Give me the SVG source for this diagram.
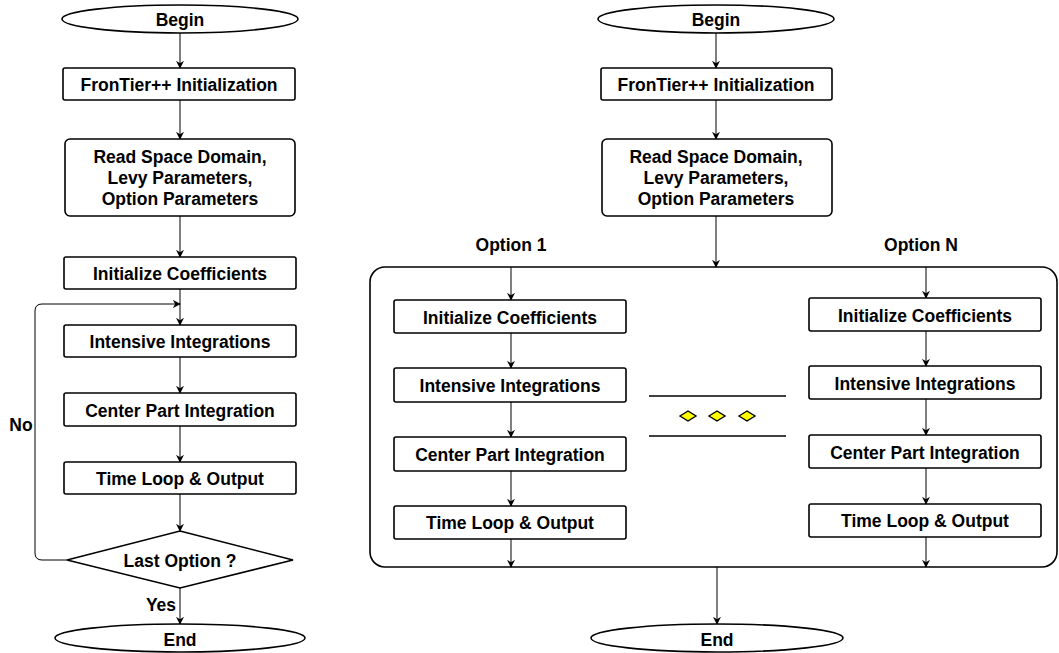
<svg xmlns="http://www.w3.org/2000/svg" width="1059" height="653" viewBox="0 0 1059 653">
  <style>
    .box { fill: #fff; stroke: #000; stroke-width: 1.6; }
    .term { fill: #fff; stroke: #000; stroke-width: 1.6; }
    .lbl { font-family: "Liberation Sans", Arial, sans-serif; font-weight: bold; font-size: 17.5px; fill: #000; text-anchor: middle; dominant-baseline: central; }
    .edge { fill: none; stroke: #000; stroke-width: 1; marker-end: url(#arrow); }
    .sep { stroke: #000; stroke-width: 1.6; }
    .dot { fill: #ffff00; stroke: #000; stroke-width: 1.4; }
  </style>
  <defs>
    <marker id="arrow" viewBox="0 0 10 10" refX="9" refY="5" markerWidth="8" markerHeight="8" markerUnits="userSpaceOnUse" orient="auto">
      <path d="M0,0 L10,5 L0,10 L3,5 z" fill="#000"/>
    </marker>
  </defs>
  <rect width="1059" height="653" fill="#fff"/>

  <!-- connectors -->
  <g id="connectors">
    <!-- sequential flow -->
    <path class="edge" d="M180,33 V68"/>
    <path class="edge" d="M180,100 V139"/>
    <path class="edge" d="M180,216 V257"/>
    <path class="edge" d="M180,289 V325"/>
    <path class="edge" d="M180,357 V393"/>
    <path class="edge" d="M180,426 V462"/>
    <path class="edge" d="M180,494 V531"/>
    <path class="edge" d="M180,588 V624"/>
    <!-- "No" branch back to the loop -->
    <path class="edge" d="M67,560 H42 Q35,560 35,553 V311 Q35,304 42,304 H180"/>

    <!-- parallel flow -->
    <path class="edge" d="M716,33 V68"/>
    <path class="edge" d="M716,100 V139"/>
    <path class="edge" d="M716,216 V267"/>
    <path class="edge" d="M511,267 V300"/>
    <path class="edge" d="M511,333 V368"/>
    <path class="edge" d="M511,402 V437"/>
    <path class="edge" d="M511,471 V506"/>
    <path class="edge" d="M511,539 V567"/>
    <path class="edge" d="M926,267 V298"/>
    <path class="edge" d="M926,331 V366"/>
    <path class="edge" d="M926,399 V435"/>
    <path class="edge" d="M926,468 V504"/>
    <path class="edge" d="M926,537 V567"/>
    <path class="edge" d="M717,567 V624"/>
  </g>

  <!-- sequential flowchart -->
  <g id="begin-seq"><ellipse class="term" cx="180" cy="19" rx="118" ry="14"/><text class="lbl" x="180" y="20">Begin</text></g>
  <g id="init-seq"><rect class="box" x="63" y="68" width="232" height="32" rx="2"/><text class="lbl" x="179" y="85">FronTier++ Initialization</text></g>
  <g id="read-seq"><rect class="box" x="65" y="139" width="230" height="77" rx="5"/>
    <text class="lbl" x="180" y="157">Read Space Domain,</text>
    <text class="lbl" x="180" y="178">Levy Parameters,</text>
    <text class="lbl" x="180" y="199">Option Parameters</text></g>
  <g id="coef-seq"><rect class="box" x="64" y="257" width="232" height="32" rx="2"/><text class="lbl" x="180" y="274">Initialize Coefficients</text></g>
  <g id="intense-seq"><rect class="box" x="64" y="325" width="232" height="32" rx="2"/><text class="lbl" x="180" y="342">Intensive Integrations</text></g>
  <g id="center-seq"><rect class="box" x="64" y="393" width="232" height="33" rx="2"/><text class="lbl" x="180" y="411">Center Part Integration</text></g>
  <g id="time-seq"><rect class="box" x="64" y="462" width="232" height="32" rx="2"/><text class="lbl" x="180" y="479">Time Loop &amp; Output</text></g>
  <g id="decision"><polygon class="box" points="180,531 293,560 180,588 67,560"/><text class="lbl" x="180" y="561">Last Option ?</text></g>
  <g id="end-seq"><ellipse class="term" cx="180" cy="638" rx="125" ry="14"/><text class="lbl" x="180" y="640">End</text></g>
  <text class="lbl" x="21" y="425">No</text>
  <text class="lbl" x="161" y="605">Yes</text>

  <!-- parallel flowchart -->
  <g id="begin-par"><ellipse class="term" cx="716" cy="19" rx="118" ry="14"/><text class="lbl" x="716" y="20">Begin</text></g>
  <g id="init-par"><rect class="box" x="601" y="68" width="231" height="32" rx="2"/><text class="lbl" x="716" y="85">FronTier++ Initialization</text></g>
  <g id="read-par"><rect class="box" x="602" y="139" width="230" height="77" rx="5"/>
    <text class="lbl" x="716" y="157">Read Space Domain,</text>
    <text class="lbl" x="716" y="178">Levy Parameters,</text>
    <text class="lbl" x="716" y="199">Option Parameters</text></g>

  <g id="options"><rect x="370" y="267" width="687" height="300" rx="15" fill="none" stroke="#000" stroke-width="1.6"/></g>
  <text class="lbl" x="511" y="245">Option 1</text>
  <text class="lbl" x="921" y="245">Option N</text>

  <g id="coef-1"><rect class="box" x="394" y="300" width="232" height="33" rx="2"/><text class="lbl" x="510" y="318">Initialize Coefficients</text></g>
  <g id="intense-1"><rect class="box" x="394" y="368" width="232" height="34" rx="2"/><text class="lbl" x="510" y="386">Intensive Integrations</text></g>
  <g id="center-1"><rect class="box" x="394" y="437" width="232" height="34" rx="2"/><text class="lbl" x="510" y="455">Center Part Integration</text></g>
  <g id="time-1"><rect class="box" x="394" y="506" width="232" height="33" rx="2"/><text class="lbl" x="510" y="523">Time Loop &amp; Output</text></g>

  <g id="coef-n"><rect class="box" x="809" y="298" width="232" height="33" rx="2"/><text class="lbl" x="925" y="316">Initialize Coefficients</text></g>
  <g id="intense-n"><rect class="box" x="809" y="366" width="232" height="33" rx="2"/><text class="lbl" x="925" y="384">Intensive Integrations</text></g>
  <g id="center-n"><rect class="box" x="809" y="435" width="232" height="33" rx="2"/><text class="lbl" x="925" y="453">Center Part Integration</text></g>
  <g id="time-n"><rect class="box" x="809" y="504" width="232" height="33" rx="2"/><text class="lbl" x="925" y="521">Time Loop &amp; Output</text></g>

  <!-- ellipsis between option columns -->
  <g id="ellipsis">
    <line class="sep" x1="649" y1="396" x2="786" y2="396"/>
    <line class="sep" x1="649" y1="436" x2="786" y2="436"/>
    <polygon class="dot" points="680,416 688,411 696,416 688,421"/>
    <polygon class="dot" points="709,416 717,411 725,416 717,421"/>
    <polygon class="dot" points="739,416 747,411 755,416 747,421"/>
  </g>

  <g id="end-par"><ellipse class="term" cx="717" cy="638" rx="126" ry="14"/><text class="lbl" x="717" y="640">End</text></g>
</svg>
